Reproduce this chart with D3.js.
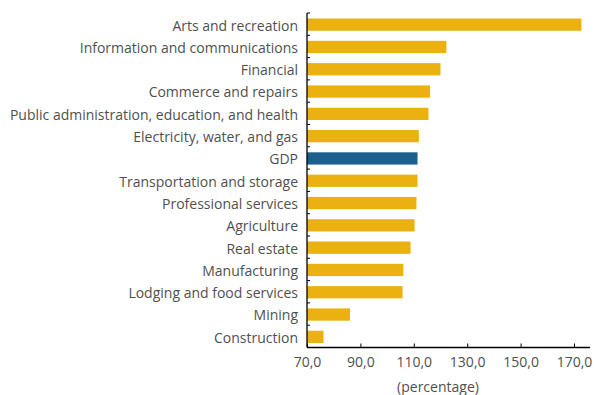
<!DOCTYPE html>
<html lang="en">
	<head>
		<meta charset="utf-8">
		<title>Growth by sector</title>
		<script src="https://d3js.org/d3.v7.min.js"></script>
		<style type="text/css">
			body {
				margin: 0;
				background: #fff;
			}
			text {
				font-family: "Open Sans", sans-serif;
				fill: #505050;
			}
		</style>
	</head>
	<body>
		<script type="text/javascript">
			//Chart data
			var sectors = ["Arts and recreation", "Information and communications", "Financial",
				"Commerce and repairs", "Public administration, education, and health",
				"Electricity, water, and gas", "GDP", "Transportation and storage",
				"Professional services", "Agriculture", "Real estate", "Manufacturing",
				"Lodging and food services", "Mining", "Construction"];
			var values = [172.8, 122.2, 120.0, 116.1, 115.5, 111.9, 111.4, 111.4,
				111.0, 110.3, 108.8, 106.1, 105.8, 86.1, 76.2];
			var ticks = [70, 90, 110, 130, 150, 170];
			var highlight = "GDP";

			//Width and height
			var w = 594;
			var h = 395;

			var svg = d3.select("body")
				.append("svg")
				.attr("width", w)
				.attr("height", h);

			var x = d3.scaleLinear()
				.domain([70, 176])
				.range([307, 590]);

			var y = d3.scaleBand()
				.domain(sectors)
				.range([13, 347.5])
				.paddingInner(0.45)
				.paddingOuter(0.225);

			//Bars
			svg.selectAll("rect")
				.data(sectors)
				.enter()
				.append("rect")
				.attr("x", x(70))
				.attr("y", function(d) { return y(d) + 0.5; })
				.attr("width", function(d, i) { return x(values[i]) - x(70); })
				.attr("height", y.bandwidth())
				.attr("fill", function(d) { return d == highlight ? "#1a5f8e" : "#ebb111"; });

			//Category labels
			svg.selectAll("text.label")
				.data(sectors)
				.enter()
				.append("text")
				.attr("class", "label")
				.attr("x", 298)
				.attr("y", function(d) { return y(d) + y.bandwidth() / 2 + 1.5; })
				.attr("dy", "0.35em")
				.attr("text-anchor", "end")
				.style("font-size", "14px")
				.text(function(d) { return d; });

			//Y axis line and ticks at band boundaries
			var yAxis = svg.append("g").attr("class", "y-axis");
			yAxis.append("line")
				.attr("x1", 307).attr("x2", 307)
				.attr("y1", 13).attr("y2", 347.5)
				.attr("stroke", "#000")
				.attr("stroke-width", 1.3);
			var step = y.step();
			yAxis.selectAll("line.tick")
				.data(d3.range(sectors.length + 1))
				.enter()
				.append("line")
				.attr("class", "tick")
				.attr("x1", 307).attr("x2", 310)
				.attr("y1", function(i) { return 13 + i * step; })
				.attr("y2", function(i) { return 13 + i * step; })
				.attr("stroke", "#000");

			//X axis
			var fmt = function(d) { return d3.format(".1f")(d).replace(".", ","); };
			var xAxis = svg.append("g")
				.attr("transform", "translate(0,347.5)")
				.call(d3.axisBottom(x)
					.tickValues(ticks)
					.tickSize(-4)
					.tickPadding(10)
					.tickFormat(fmt));
			xAxis.select(".domain")
				.attr("stroke", "#000")
				.attr("stroke-width", 1.3)
				.attr("d", "M307,0H590");
			xAxis.selectAll(".tick line").attr("stroke", "#000");
			xAxis.selectAll(".tick text")
				.style("font-family", "\"Open Sans\", sans-serif")
				.style("font-size", "14px")
				.attr("fill", "#505050");

			svg.append("text")
				.attr("x", 438)
				.attr("y", 392)
				.attr("text-anchor", "middle")
				.style("font-size", "14px")
				.text("(percentage)");
		</script>
	</body>
</html>
